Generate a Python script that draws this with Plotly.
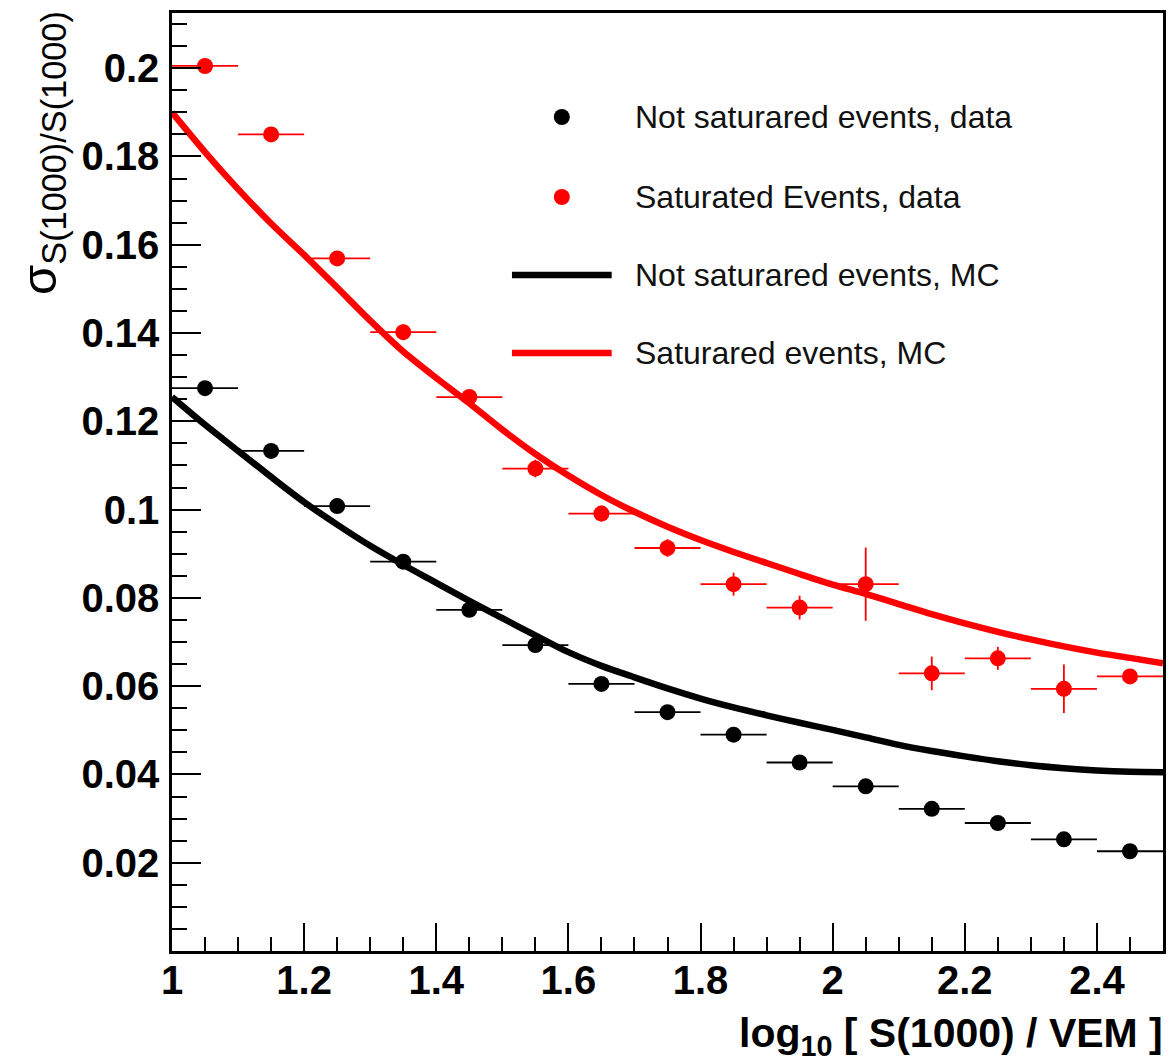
import plotly.graph_objects as go

# ---------------- data ----------------
bin_centers = [1.05, 1.15, 1.25, 1.35, 1.45, 1.55, 1.65, 1.75, 1.85, 1.95, 2.05, 2.15, 2.25, 2.35, 2.45]
bin_halfwidth = [0.05, 0.05, 0.05, 0.05, 0.05, 0.05, 0.05, 0.05, 0.05, 0.05, 0.05, 0.05, 0.05, 0.05, 0.05]

notsat_data = [0.1275, 0.1133, 0.1008, 0.0882, 0.0773, 0.0693, 0.0605, 0.0541, 0.0490, 0.0427,
               0.0373, 0.0322, 0.0290, 0.0253, 0.0226]
notsat_err = [0.0008, 0.0008, 0.0007, 0.0007, 0.0006, 0.0006, 0.0006, 0.0006, 0.0006, 0.0006,
              0.0006, 0.0006, 0.0006, 0.0006, 0.0006]

sat_data = [0.2005, 0.1850, 0.1569, 0.1402, 0.1255, 0.1093, 0.0991, 0.0913, 0.0831, 0.0778,
            0.0831, 0.0629, 0.0663, 0.0594, 0.0622]
sat_err = [0.0015, 0.0015, 0.0012, 0.0018, 0.0015, 0.0020, 0.0018, 0.0020, 0.0026, 0.0027,
           0.0083, 0.0038, 0.0026, 0.0055, 0.0008]

mc_x = [1.00, 1.05, 1.10, 1.15, 1.20, 1.25, 1.30, 1.35, 1.40, 1.45, 1.50, 1.55, 1.60, 1.65, 1.70,
        1.75, 1.80, 1.85, 1.90, 1.95, 2.00, 2.05, 2.10, 2.15, 2.20, 2.25, 2.30, 2.35, 2.40, 2.45, 2.50]
mc_notsat = [0.1255, 0.1192, 0.1133, 0.1074, 0.1017, 0.0966, 0.0918, 0.0875, 0.0834, 0.0793,
             0.0754, 0.0715, 0.0677, 0.0646, 0.0620, 0.0595, 0.0572, 0.0552, 0.0534, 0.0517,
             0.0501, 0.0484, 0.0467, 0.0453, 0.0441, 0.0430, 0.0421, 0.0414, 0.0409, 0.0406, 0.0405]
mc_sat = [0.1900, 0.1810, 0.1726, 0.1648, 0.1577, 0.1503, 0.1428, 0.1358, 0.1298, 0.1241,
          0.1181, 0.1126, 0.1077, 0.1033, 0.0995, 0.0961, 0.0931, 0.0904, 0.0879, 0.0854,
          0.0830, 0.0809, 0.0786, 0.0763, 0.0742, 0.0723, 0.0706, 0.0690, 0.0676, 0.0664, 0.0652]

x_tickvals = [1.0, 1.2, 1.4, 1.6, 1.8, 2.0, 2.2, 2.4]
x_ticktext = ["1", "1.2", "1.4", "1.6", "1.8", "2", "2.2", "2.4"]
y_tickvals = [0.02, 0.04, 0.06, 0.08, 0.10, 0.12, 0.14, 0.16, 0.18, 0.20]
y_ticktext = ["0.02", "0.04", "0.06", "0.08", "0.1", "0.12", "0.14", "0.16", "0.18", "0.2"]

legend_labels = ["Not saturared events, data", "Saturated Events, data",
                 "Not saturared events, MC", "Saturared events, MC"]

RED = "#ff0000"
BLACK = "#000000"
FONT = "Liberation Sans, Arial, sans-serif"

fig = go.Figure()

fig.add_trace(go.Scatter(x=mc_x, y=mc_sat, mode="lines",
                         line=dict(color=RED, width=6.5, shape="spline", smoothing=0.8),
                         name=legend_labels[3], showlegend=False, hoverinfo="skip"))
fig.add_trace(go.Scatter(x=mc_x, y=mc_notsat, mode="lines",
                         line=dict(color=BLACK, width=6.5, shape="spline", smoothing=0.8),
                         name=legend_labels[2], showlegend=False, hoverinfo="skip"))

fig.add_trace(go.Scatter(
    x=bin_centers, y=notsat_data, mode="markers",
    marker=dict(color=BLACK, size=16, line=dict(width=0)),
    error_x=dict(type="data", array=bin_halfwidth, color=BLACK, thickness=1.8, width=0),
    error_y=dict(type="data", array=notsat_err, color=BLACK, thickness=1.8, width=0),
    name=legend_labels[0], showlegend=False))
fig.add_trace(go.Scatter(
    x=bin_centers, y=sat_data, mode="markers",
    marker=dict(color=RED, size=16, line=dict(width=0)),
    error_x=dict(type="data", array=bin_halfwidth, color=RED, thickness=1.8, width=0),
    error_y=dict(type="data", array=sat_err, color=RED, thickness=1.8, width=0),
    name=legend_labels[1], showlegend=False))

# plot area geometry in pixels
L, R, T, B = 172, 1166, 13, 951
W_PLOT, H_PLOT = R - L, B - T


def px_to_paper_x(px):
    return (px - L) / W_PLOT


def px_to_paper_y(py):
    return (B - py) / H_PLOT


shapes = []
annotations = []

# custom legend (ROOT-like, no border)
legend_rows = [117, 197, 275, 353]
legend_kind = ["marker", "marker", "line", "line"]
legend_colors = [BLACK, RED, BLACK, RED]
for row_y, kind, col, lab in zip(legend_rows, legend_kind, legend_colors, legend_labels):
    yp = px_to_paper_y(row_y)
    if kind == "marker":
        shapes.append(dict(type="circle", xref="paper", yref="paper",
                           xsizemode="pixel", ysizemode="pixel",
                           xanchor=px_to_paper_x(563), yanchor=yp,
                           x0=-8, x1=8, y0=-8, y1=8,
                           fillcolor=col, line=dict(width=0)))
    else:
        shapes.append(dict(type="line", xref="paper", yref="paper",
                           x0=px_to_paper_x(513), x1=px_to_paper_x(613), y0=yp, y1=yp,
                           line=dict(color=col, width=6.5)))
    annotations.append(dict(text=lab, xref="paper", yref="paper",
                            x=px_to_paper_x(634), y=yp, xanchor="left", yanchor="middle",
                            showarrow=False,
                            font=dict(family=FONT, size=32, color="#111111")))

# x axis title
annotations.append(dict(text="<b>log<sub>10</sub> [ S(1000) / VEM ]</b>", xref="paper", yref="paper",
                        x=px_to_paper_x(1168), y=px_to_paper_y(1008), xanchor="right", yanchor="top",
                        showarrow=False,
                        font=dict(family=FONT, size=41, color=BLACK)))
# y axis title
annotations.append(dict(text="σ<sub>S(1000)/S(1000)</sub>", xref="paper", yref="paper",
                        x=px_to_paper_x(10), y=px_to_paper_y(9), xanchor="left", yanchor="top",
                        textangle=-90, showarrow=False,
                        font=dict(family=FONT, size=49, color=BLACK)))

tickfont = dict(family=FONT, size=40, color=BLACK, weight="bold")

fig.update_layout(
    width=1169, height=1063,
    margin=dict(l=L, r=1169 - R, t=T, b=1063 - B, pad=0),
    paper_bgcolor="white", plot_bgcolor="white",
    showlegend=False,
    shapes=shapes, annotations=annotations,
    xaxis=dict(range=[1.0, 2.5], tickmode="array", tickvals=x_tickvals, ticktext=x_ticktext,
               ticks="inside", ticklen=28, tickwidth=2, tickcolor=BLACK,
               minor=dict(dtick=0.05, tick0=1.0, ticks="inside", ticklen=14, tickwidth=2, tickcolor=BLACK, showgrid=False),
               showline=True, linecolor=BLACK, linewidth=2.5, mirror=True,
               showgrid=False, zeroline=False, tickfont=tickfont, ticklabelstandoff=-8),
    yaxis=dict(range=[0.0, 0.2125], tickmode="array", tickvals=y_tickvals, ticktext=y_ticktext,
               ticks="inside", ticklen=29, tickwidth=2, tickcolor=BLACK,
               minor=dict(dtick=0.005, tick0=0.0, ticks="inside", ticklen=15, tickwidth=2, tickcolor=BLACK, showgrid=False),
               showline=True, linecolor=BLACK, linewidth=2.5, mirror=True,
               showgrid=False, zeroline=False, tickfont=tickfont, ticklabelstandoff=2),
)

fig.write_html("out.html")
